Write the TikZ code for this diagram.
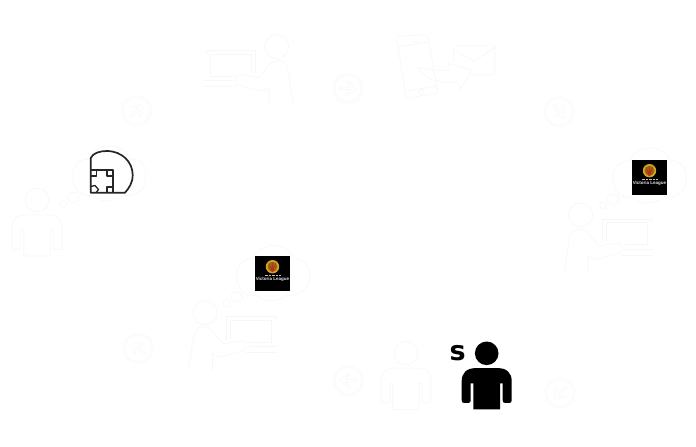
\documentclass[tikz,border=0pt]{standalone}
\usepackage{fontspec}
\setsansfont{DejaVu Sans}
\newfontfamily\logofont{Liberation Sans}
\definecolor{faintline}{HTML}{F7F7F7}
\definecolor{fainter}{HTML}{F9F9F9}
\definecolor{logogold}{HTML}{D9A520}
\definecolor{logored}{HTML}{C8281A}
\tikzset{
  faint/.style={draw=faintline,line width=0.6pt,fill=none,line join=round,line cap=round},
  fainter line/.style={draw=fainter,line width=0.6pt,fill=none,line join=round},
  field/.style={draw=black!85,line width=1.7pt,fill=none,line join=round},
  figperson/.pic={
    \draw[pic actions,fill=none] (0,0) circle (11.8);
    \draw[pic actions,even odd rule] (-11,14.8) .. controls (-20,14.8) and (-25,19.5) .. (-25,28)
      -- (-25,47) .. controls (-25,49) and (-24,49.5) .. (-23,49.5) -- (-18,49.5) .. controls (-17,49.5) and (-16,49) .. (-16,47)
      -- (-16,30) -- (-13.3,30) -- (-13.3,56) -- (13.3,56) -- (13.3,30) -- (16,30) -- (16,47)
      .. controls (16,49) and (17,49.5) .. (18,49.5) -- (23,49.5) .. controls (24,49.5) and (25,49) .. (25,47)
      -- (25,28) .. controls (25,19.5) and (20,14.8) .. (11,14.8) -- cycle;
  },
  lapperson/.pic={
    \draw[faint] (0,0) circle (12);
    \draw[faint] (-16.5,57) -- (-11.5,24) .. controls (-10,15) and (-4,13) .. (0,14)
      .. controls (3,14) and (5,15.5) .. (7,18) -- (18,31) -- (36,28)
      .. controls (41,28) and (42,33) .. (41,35) .. controls (40,38) and (38,39) .. (36,39)
      -- (15,44.5) -- (7.5,41) -- (7.5,57);
    \draw[faint] (21.7,27) -- (21.7,4) -- (70.7,4) -- (70.7,7);
    \draw[faint] (25.7,26) -- (25.7,7.5) -- (66.7,7.5) -- (66.7,29.5) -- (44,29.5);
    \draw[faint] (44,34) -- (72,34);
    \draw[faint] (41,40) -- (72,40);
  },
  cycarrow/.pic={
    \draw[fainter line] (0,0) circle (15);
    \draw[fainter line] (0,0) circle (13.2);
    \draw[fainter line] (-9,-1.2) -- (3,-1.2) -- (-2.5,-7) -- (0,-7) -- (8,0) -- (0,7) -- (-2.5,7) -- (3,1.2) -- (-9,1.2) -- cycle;
  },
  thought/.pic={
    \draw[faint] (-36.5,4) .. controls (-37,-10) and (-28,-15) .. (-20,-14)
      .. controls (-14,-31) and (14,-33) .. (21,-14)
      .. controls (32,-16) and (38,-5) .. (36.5,4)
      .. controls (37,16) and (26,24) .. (14,22)
      .. controls (5,30) and (-12,29) .. (-16,22)
      .. controls (-28,24) and (-36,16) .. (-36.5,4) -- cycle;
    \draw[faint] (-36.3,24) ellipse (6 and 5);
    \draw[faint] (-46.3,30.3) circle (3.5);
  },
  leaguelogo/.pic={
    \fill[black] (-17.5,-17.5) rectangle (17.5,17.5);
    \fill[logogold] (0,-6.8) circle (6.7);
    \fill[logogold!65!black] (0,-6.8) circle (5);
    \fill[logored] (-4,-10.5) -- (-0.8,-1.5) -- (0.6,-1.5) -- (4,-12) -- (1.2,-6) -- (0,-11) -- (-1.1,-5.5) -- cycle;
    \draw[white!75!black,line width=0.8pt,dash pattern=on 0.9pt off 0.5pt] (-8,1.8) -- (8,1.8);
    \node (word) at (0,6.2) [inner sep=0pt,text=white!90!black,font=\logofont\bfseries\fontsize{4.5}{6}\selectfont] {Victoria League};
  },
}
\begin{document}
\begin{tikzpicture}[x=1pt,y=-1pt]
\useasboundingbox[fill=white] (0,0) rectangle (696,447);

% faint people
\pic[faint] (lp) at (37,200) {figperson};
\pic[faint] (mp) at (406,353.3) {figperson};
\pic[fill=black,draw=none] (bp) at (486.7,353.3) {figperson};
\fill[black] (486.7,353.3) circle (11.8);
\node (ess) at (457.6,353.4) [inner sep=0pt,font=\sffamily\bfseries\fontsize{27}{27}\selectfont] {s};

% laptop people
\pic (lapa) at (205,312.7) {lapperson};
\pic (lapb) at (580.7,215) {lapperson};
\pic[xscale=-1] (lapc) at (276.7,46.7) {lapperson};

% cycle arrows
\pic[rotate=45] (ca) at (136.7,110.7) {cycarrow};
\pic (cb) at (348,88.3) {cycarrow};
\pic[rotate=-45] (cc) at (559.3,111.7) {cycarrow};
\pic[rotate=-135] (cd) at (560,392.7) {cycarrow};
\pic[rotate=180] (ce) at (348.3,380.7) {cycarrow};
\pic[rotate=135] (cf) at (138.3,348.3) {cycarrow};

% thought clouds
\pic (cla) at (109.4,173.3) {thought};
\pic (clb) at (649.4,175.3) {thought};
\pic (clc) at (273,273) {thought};
\pic (lgb) at (649.5,177.5) {leaguelogo};
\pic (lgc) at (272.5,273.5) {leaguelogo};

% ball field
\draw[field] (90.7,158) .. controls (93,153) and (100,151) .. (106.7,151)
  .. controls (122,151) and (132.7,162) .. (132.7,175)
  .. controls (132.7,183) and (129,188) .. (125,192.7) -- (90.7,192.7) -- cycle;
\draw[field] (90.7,170) -- (112.7,170) -- (112.7,192.7);
\draw[field,line width=1.3pt] (90.7,176) -- (96.5,176) -- (96.5,170);
\draw[field,line width=1.3pt] (107,170) -- (107,176) -- (112.7,176);
\draw[field,line width=1.3pt] (107,192.7) -- (107,187) -- (112.7,187);
\draw[field,line width=1.3pt] (90.7,186.5) -- (95,185.5) -- (98.5,189.5) -- (96,192.7);

% phone, envelope and arrow
\draw[faint] (397,40.5) .. controls (396.5,37) and (397,36.5) .. (399,36) -- (425,35) .. controls (427,34.8) and (427.5,35.5) .. (428,37)
  -- (437.5,90) .. controls (437.5,92) and (437,93) .. (435,93.5) -- (409,98) .. controls (407,98.3) and (406.5,97.5) .. (406,96) -- cycle;
\draw[faint] (398,47) -- (429,42);
\draw[faint] (406.5,91) -- (437,86);
\draw[faint] (413,42.3) -- (420,41.2);
\draw[faint] (421,91.7) circle (2.5);
\draw[faint] (453,50) -- (457,46) -- (495,46) -- (495,70) .. controls (495,74) and (494,75) .. (492,75) -- (470,75);
\draw[faint] (453,50) -- (474,61) -- (496,47);
\draw[faint] (453,50) -- (453,61);
\draw[faint] (418,67.5) .. controls (430,70) and (440,71) .. (450,70) -- (448,63.5) -- (472,70) -- (460.5,89.5) -- (457,81.7) .. controls (440,84) and (425,80) .. (418,67.5) -- cycle;
\end{tikzpicture}
\end{document}
